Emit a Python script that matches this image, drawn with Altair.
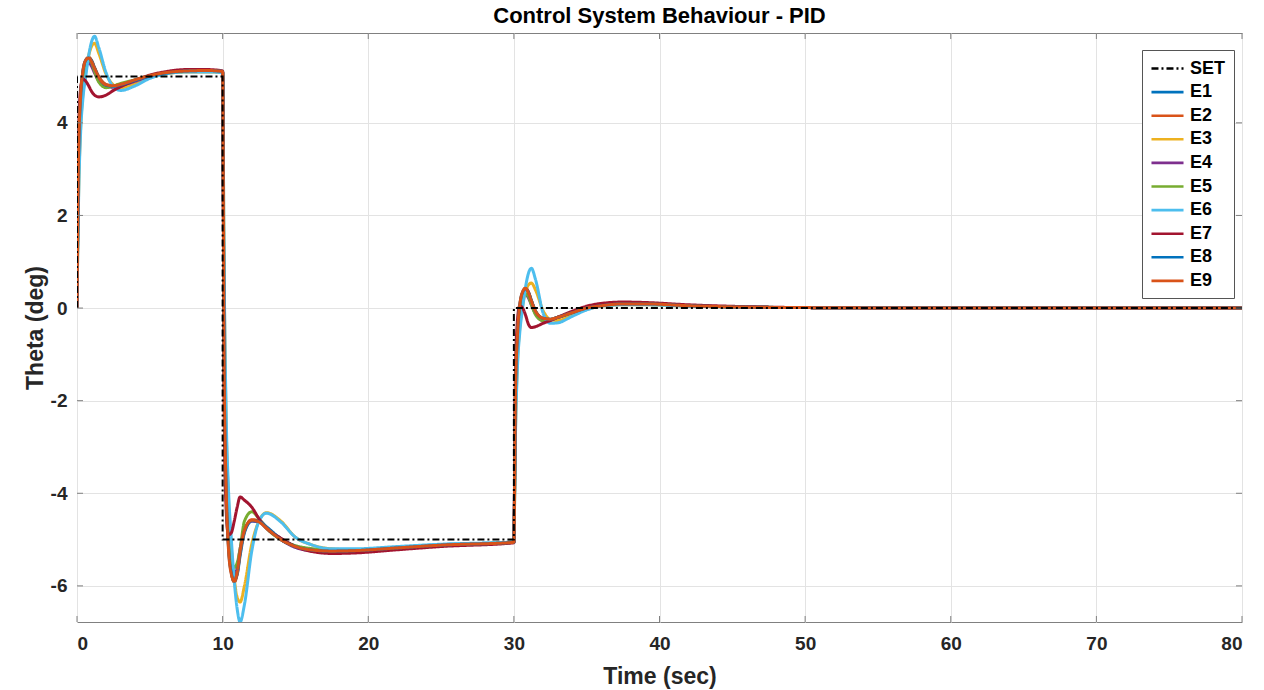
import altair as alt
import pandas as pd

# ---------------- data ----------------
T1 = [0, 0.1, 0.25, 0.4, 0.6, 0.8, 1.0, 1.2, 1.5, 2.0, 2.5, 3.0, 4.0, 5.0, 6.0, 7.5, 9.0, 10.0]
T2 = [10.1, 10.25, 10.4, 10.6, 10.8, 11.0, 11.2, 11.5, 12.0, 12.5, 13.0, 14.0, 15.0, 16.0, 17.5, 19.0, 22.0, 25.0, 30.0]
T3 = [30.1, 30.25, 30.4, 30.6, 30.8, 31.0, 31.2, 31.5, 32.0, 32.5, 33.0, 34.0, 35.0, 36.0, 37.5, 39.0, 42.0, 46.0, 50.0, 60.0, 80.0]
TIME = T1 + T2 + T3

E1 = ([0, 3.0, 4.5, 5.05, 5.3, 5.38, 5.33, 5.18, 4.97, 4.8, 4.78, 4.81, 4.91, 5.0, 5.07, 5.11, 5.12, 5.1]
      + [-0.8, -3.8, -5.05, -5.65, -5.85, -5.75, -5.35, -4.85, -4.6, -4.6, -4.72, -4.98, -5.14, -5.21, -5.24, -5.23, -5.17, -5.11, -5.05]
      + [-2.1, -0.65, 0.0, 0.3, 0.4, 0.34, 0.16, -0.08, -0.23, -0.25, -0.21, -0.1, 0.0, 0.05, 0.08, 0.08, 0.05, 0.02, 0.01, 0.0, 0.0])
E2 = ([0, 3.1, 4.55, 5.08, 5.35, 5.42, 5.35, 5.2, 5.0, 4.83, 4.8, 4.82, 4.92, 5.01, 5.07, 5.12, 5.13, 5.11]
      + [-1.0, -3.9, -5.1, -5.7, -5.92, -5.75, -5.3, -4.82, -4.57, -4.6, -4.74, -5.0, -5.15, -5.22, -5.25, -5.24, -5.18, -5.12, -5.06]
      + [-2.05, -0.6, 0.02, 0.33, 0.43, 0.35, 0.17, -0.07, -0.22, -0.25, -0.21, -0.1, 0.0, 0.05, 0.09, 0.09, 0.05, 0.02, 0.01, 0.0, 0.0])
E3 = ([0, 2.3, 3.9, 4.6, 5.1, 5.45, 5.65, 5.72, 5.5, 5.05, 4.82, 4.76, 4.85, 4.98, 5.05, 5.1, 5.1, 5.08]
      + [0.9, -2.6, -4.1, -5.2, -5.85, -6.25, -6.35, -6.0, -5.1, -4.6, -4.42, -4.6, -4.95, -5.1, -5.2, -5.22, -5.17, -5.12, -5.05]
      + [-2.8, -1.15, -0.45, 0.05, 0.35, 0.5, 0.54, 0.38, -0.05, -0.25, -0.27, -0.15, -0.03, 0.04, 0.07, 0.07, 0.04, 0.02, 0.01, 0.0, 0.0])
E4 = ([0, 2.9, 4.4, 4.95, 5.2, 5.3, 5.22, 5.08, 4.9, 4.78, 4.77, 4.8, 4.9, 5.0, 5.07, 5.12, 5.13, 5.11]
      + [-0.7, -3.9, -5.0, -5.6, -5.8, -5.6, -5.2, -4.8, -4.6, -4.62, -4.75, -5.0, -5.17, -5.24, -5.27, -5.26, -5.2, -5.13, -5.06]
      + [-2.2, -0.65, -0.1, 0.22, 0.3, 0.22, 0.07, -0.13, -0.27, -0.26, -0.2, -0.1, 0.01, 0.06, 0.09, 0.09, 0.05, 0.02, 0.01, 0.0, 0.0])
E5 = ([0, 2.8, 4.3, 4.9, 5.2, 5.35, 5.3, 5.12, 4.88, 4.76, 4.8, 4.85, 4.93, 5.02, 5.07, 5.11, 5.12, 5.1]
      + [-0.5, -3.7, -4.9, -5.45, -5.6, -5.5, -5.2, -4.6, -4.4, -4.55, -4.75, -5.0, -5.13, -5.19, -5.23, -5.22, -5.17, -5.12, -5.05]
      + [-2.3, -0.75, -0.15, 0.2, 0.3, 0.25, 0.08, -0.15, -0.27, -0.25, -0.2, -0.1, 0.0, 0.05, 0.08, 0.08, 0.05, 0.02, 0.01, 0.0, 0.0])
E6 = ([0, 2.2, 3.8, 4.5, 5.0, 5.45, 5.75, 5.87, 5.62, 5.08, 4.78, 4.7, 4.8, 4.96, 5.05, 5.1, 5.1, 5.08]
      + [1.0, -2.4, -3.9, -5.0, -5.9, -6.5, -6.78, -6.4, -5.25, -4.6, -4.43, -4.62, -4.95, -5.1, -5.2, -5.2, -5.15, -5.1, -5.05]
      + [-2.9, -1.25, -0.55, 0.0, 0.45, 0.75, 0.86, 0.6, -0.1, -0.33, -0.32, -0.18, -0.04, 0.04, 0.07, 0.07, 0.04, 0.02, 0.01, 0.0, 0.0])
E7 = ([0, 3.6, 4.75, 4.95, 4.9, 4.8, 4.68, 4.6, 4.56, 4.6, 4.7, 4.78, 4.92, 5.03, 5.1, 5.15, 5.15, 5.12]
      + [-2.0, -4.4, -4.9, -4.85, -4.6, -4.3, -4.08, -4.15, -4.3, -4.55, -4.75, -4.97, -5.15, -5.25, -5.3, -5.29, -5.22, -5.15, -5.07]
      + [-1.5, -0.25, 0.05, 0.0, -0.15, -0.35, -0.42, -0.4, -0.33, -0.27, -0.2, -0.07, 0.04, 0.1, 0.13, 0.12, 0.07, 0.03, 0.01, 0.0, 0.0])
E8 = ([0, 3.1, 4.55, 5.1, 5.35, 5.4, 5.34, 5.19, 4.98, 4.81, 4.79, 4.82, 4.92, 5.01, 5.07, 5.12, 5.13, 5.11]
      + [-1.1, -3.95, -5.15, -5.72, -5.9, -5.72, -5.28, -4.82, -4.59, -4.61, -4.74, -5.0, -5.15, -5.22, -5.25, -5.24, -5.18, -5.12, -5.06]
      + [-2.0, -0.58, 0.04, 0.34, 0.42, 0.34, 0.16, -0.08, -0.22, -0.24, -0.2, -0.1, 0.0, 0.05, 0.09, 0.09, 0.05, 0.02, 0.01, 0.0, 0.0])
E9 = ([0, 3.2, 4.6, 5.1, 5.35, 5.4, 5.32, 5.18, 4.98, 4.82, 4.8, 4.83, 4.93, 5.02, 5.08, 5.12, 5.13, 5.11]
      + [-1.2, -4.0, -5.2, -5.75, -5.9, -5.7, -5.25, -4.8, -4.58, -4.62, -4.75, -5.0, -5.15, -5.22, -5.25, -5.24, -5.18, -5.12, -5.06]
      + [-2.0, -0.55, 0.05, 0.35, 0.43, 0.33, 0.15, -0.08, -0.22, -0.24, -0.2, -0.1, 0.0, 0.05, 0.09, 0.09, 0.05, 0.02, 0.01, 0.0, 0.0])

SET_T = [0, 0, 10, 10, 30, 30, 80]
SET_V = [0, 5, 5, -5, -5, 0, 0]

SERIES = ["SET", "E1", "E2", "E3", "E4", "E5", "E6", "E7", "E8", "E9"]
COLORS = ["#000000", "#0072BD", "#D95319", "#EDB120", "#7E2F8E", "#77AC30",
          "#4DBEEE", "#A2142F", "#0072BD", "#D95319"]
DASHES = [[7, 3, 2, 3]] + [[1, 0]] * 9

X_TICKS = [0, 10, 20, 30, 40, 50, 60, 70, 80]
Y_TICKS = [-6, -4, -2, 0, 2, 4]

# ---------------- tables ----------------
resp = {"E1": E1, "E2": E2, "E3": E3, "E4": E4, "E5": E5,
        "E6": E6, "E7": E7, "E8": E8, "E9": E9}
rows = []
for name in SERIES[1:]:
    vals = resp[name]
    assert len(vals) == len(TIME), name
    for i, (t, v) in enumerate(zip(TIME, vals)):
        rows.append({"series": name, "t": t, "v": v, "o": i})
df = pd.DataFrame(rows)
df_set = pd.DataFrame({"series": "SET", "t": SET_T, "v": SET_V, "o": list(range(len(SET_T)))})
df_xt = pd.DataFrame({"t": X_TICKS})
df_yt = pd.DataFrame({"v": Y_TICKS})

FONT = "Liberation Sans"
W, H = 1165, 589
TICK = 6
FRAME = "#808080"

x_scale = alt.Scale(domain=[0, 80], nice=False, zero=False)
y_scale = alt.Scale(domain=[-6.78, 5.94], nice=False, zero=False)

x_enc = alt.X("t:Q", scale=x_scale,
              axis=alt.Axis(values=X_TICKS, title="Time (sec)", labelPadding=12,
                            titlePadding=12))
y_enc = alt.Y("v:Q", scale=y_scale,
              axis=alt.Axis(values=Y_TICKS, title="Theta (deg)", labelPadding=10,
                            titlePadding=3, labelExpr="datum.value + ''"))
color_enc = alt.Color("series:N", scale=alt.Scale(domain=SERIES, range=COLORS),
                      sort=SERIES,
                      legend=alt.Legend(title=None, orient="none", legendX=1065, legendY=17,
                                        symbolType="M-1.78,0L1.78,0", symbolStrokeWidth=2.6,
                                        symbolSize=324, symbolOffset=7,
                                        labelFontSize=18, labelFontWeight="bold",
                                        labelFont=FONT, labelColor="#000000",
                                        rowPadding=3.6, padding=8, strokeColor="#555555",
                                        fillColor="#ffffff", labelOffset=12, labelLimit=60))
dash_enc = alt.StrokeDash("series:N", scale=alt.Scale(domain=SERIES, range=DASHES),
                          sort=SERIES, legend=None)

# inward tick marks on all four sides (MATLAB box style)
xt_bottom = alt.Chart(df_xt).mark_rule(color=FRAME, strokeWidth=1).encode(
    x=x_enc, y=alt.value(H), y2=alt.value(H - TICK))
xt_top = alt.Chart(df_xt).mark_rule(color=FRAME, strokeWidth=1).encode(
    x=x_enc, y=alt.value(0), y2=alt.value(TICK))
yt_left = alt.Chart(df_yt).mark_rule(color=FRAME, strokeWidth=1).encode(
    y=y_enc, x=alt.value(0), x2=alt.value(TICK))
yt_right = alt.Chart(df_yt).mark_rule(color=FRAME, strokeWidth=1).encode(
    y=y_enc, x=alt.value(W), x2=alt.value(W - TICK))

lines = alt.Chart(df).mark_line(interpolate="monotone", strokeWidth=3, clip=True).encode(
    x=x_enc, y=y_enc, color=color_enc, strokeDash=dash_enc, order="o:Q",
    detail="series:N")

setline = alt.Chart(df_set).mark_line(strokeWidth=2, clip=True).encode(
    x=x_enc, y=y_enc, color=color_enc, strokeDash=dash_enc, order="o:Q")

chart = alt.layer(lines, setline, xt_bottom, xt_top, yt_left, yt_right).properties(
    width=W, height=H,
    autosize=alt.AutoSizeParams(type="none"),
    padding={"left": 77, "top": 33, "right": 22, "bottom": 68},
    title=alt.TitleParams("Control System Behaviour - PID", font=FONT, fontSize=22,
                          fontWeight="bold", color="#000000", offset=5, anchor="middle"),
).configure_view(
    stroke=FRAME, strokeWidth=1
).configure_axis(
    grid=True, gridColor="#e3e3e3", gridWidth=1, domain=False, ticks=False,
    labelFont=FONT, labelFontSize=19, labelFontWeight="bold", labelColor="#262626",
    titleFont=FONT, titleFontSize=23, titleFontWeight="bold", titleColor="#262626"
).configure_legend(
    strokeWidth=1
)

chart.save("out.html", embed_options={"renderer": "svg", "actions": False})
